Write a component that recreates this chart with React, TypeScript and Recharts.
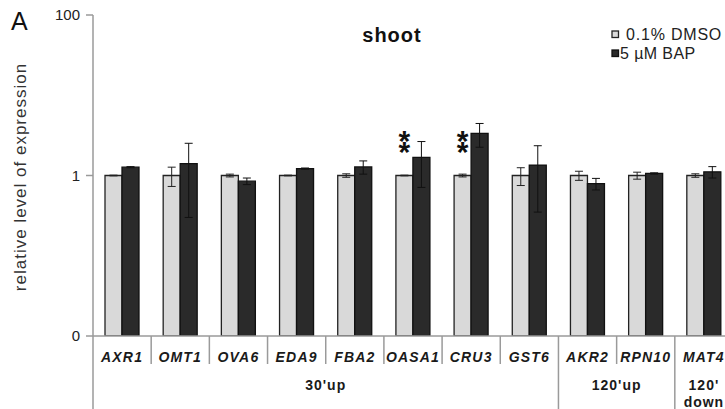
import React from 'react';
import { BarChart, Bar, XAxis, YAxis, ErrorBar, LabelList } from 'recharts';

const genes = ['AXR1', 'OMT1', 'OVA6', 'EDA9', 'FBA2', 'OASA1', 'CRU3', 'GST6', 'AKR2', 'RPN10', 'MAT4'];
const dmso = [1, 1, 1, 1, 1, 1, 1, 1, 1, 1, 1];
const dmsoErr = [0.01, 0.27, 0.04, 0.01, 0.05, 0.01, 0.04, 0.25, 0.13, 0.1, 0.05];
const bap = [1.27, 1.41, 0.85, 1.22, 1.28, 1.68, 3.35, 1.35, 0.79, 1.06, 1.11];
const bapErr = [0.02, 1.11, 0.08, 0.02, 0.24, 0.97, 1.1, 1.0, 0.13, 0.02, 0.18];
const significant = [false, false, false, false, false, true, true, false, false, false, false];

const groupLabels = [["30'up"], ["120'up"], ["120'", 'down']];
const groupSizes = [8, 2, 1];

const yTicks = [0.01, 1, 100];
const yTickLabels = ['0', '1', '100'];

const seriesNames = ['0.1% DMSO', '5 \u00b5M BAP'];

const data = genes.map((g, i) => ({
  gene: g,
  dmso: dmso[i],
  dmsoErr: dmsoErr[i],
  bap: bap[i],
  bapErr: bapErr[i],
}));

const W = 750;
const H = 409;
const MARGIN = { top: 15, right: 17, bottom: 0, left: 0 };
const Y_W = 93;
const X_H = 73;
const BAND = (W - MARGIN.left - MARGIN.right - Y_W) / genes.length;
const FONT = '"Liberation Sans", Arial, sans-serif';
const GRID = '#9a9a9a';
const LIGHT = '#d9d9d9';
const DARK = '#2a2a2a';

const groupEnds: number[] = [];
const groupStarts: number[] = [];
{
  let acc = 0;
  groupSizes.forEach((s) => {
    groupStarts.push(acc);
    acc += s;
    groupEnds.push(acc - 1);
  });
}

const GeneTick = (props: any) => {
  const { x, y, payload } = props;
  const i: number = payload.index;
  const axisY = y;
  const half = BAND / 2;
  const gIdx = groupEnds.indexOf(i);
  const isEnd = gIdx >= 0;
  const out: any[] = [];
  out.push(
    <text key="t" x={x} y={axisY + 26} textAnchor="middle" fontFamily={FONT} fontSize={14}
      fontWeight="bold" fontStyle="italic" letterSpacing={1.2} fill="#1a1a1a">
      {payload.value}
    </text>
  );
  out.push(
    <line key="r" x1={x + half} x2={x + half} y1={axisY} y2={isEnd ? H : axisY + 28} stroke={GRID} strokeWidth={1.5} />
  );
  if (i === 0) {
    out.push(<line key="l" x1={x - half} x2={x - half} y1={axisY} y2={H} stroke={GRID} strokeWidth={1.5} />);
  }
  if (isEnd) {
    const s = groupStarts[gIdx];
    const cx = x - ((i - s) * BAND) / 2;
    out.push(
      <text key="g" x={cx} y={axisY + 54} textAnchor="middle" fontFamily={FONT} fontSize={14}
        fontWeight="bold" letterSpacing={1} fill="#1a1a1a">
        {groupLabels[gIdx].map((ln, k) => (
          <tspan key={k} x={cx} dy={k === 0 ? 0 : 17}>{ln}</tspan>
        ))}
      </text>
    );
  }
  return <g>{out}</g>;
};

const Stars = (props: any) => {
  const { x, y, width, index } = props;
  if (!significant[index]) return null;
  const cx = x + width / 2;
  return (
    <text x={cx} y={y - 51.5} fontFamily={FONT} fontSize={30} fontWeight="bold" fill="#111"
      style={{ writingMode: 'vertical-rl', textOrientation: 'upright', letterSpacing: '-22.5px' } as any}>
      **
    </text>
  );
};

export default function App() {
  return (
    <div style={{ position: 'absolute', left: 0, top: 0, width: 725, height: 409, overflow: 'hidden', background: '#fff' }}>
      <BarChart width={W} height={H} data={data} margin={MARGIN} barGap={0} barCategoryGap={12}>
        <XAxis dataKey="gene" height={X_H} tick={<GeneTick />} tickLine={false} tickSize={0} tickMargin={0}
          axisLine={{ stroke: GRID, strokeWidth: 1.5 }} interval={0} />
        <YAxis scale="log" domain={[0.01, 100]} ticks={yTicks} allowDataOverflow width={Y_W}
          axisLine={{ stroke: GRID, strokeWidth: 1.5 }} tickLine={{ stroke: GRID, strokeWidth: 1.5 }} tickSize={7} tickMargin={6}
          tickFormatter={(v: number) => yTickLabels[yTicks.indexOf(v)] ?? String(v)}
          tick={{ fontFamily: FONT, fontSize: 15, fill: '#222' }} />
        <Bar dataKey="dmso" name={seriesNames[0]} fill={LIGHT} stroke="#222" strokeWidth={1.3} isAnimationActive={false}>
          <ErrorBar dataKey="dmsoErr" width={4} stroke="#222" strokeWidth={1} direction="y" />
          <LabelList dataKey="dmso" content={<Stars />} />
        </Bar>
        <Bar dataKey="bap" name={seriesNames[1]} fill={DARK} stroke="#111" strokeWidth={1.3} isAnimationActive={false}>
          <ErrorBar dataKey="bapErr" width={4} stroke="#111" strokeWidth={1} direction="y" />
        </Bar>
      </BarChart>
      <svg width={725} height={409} style={{ position: 'absolute', left: 0, top: 0, pointerEvents: 'none' }}>
        <text x={11} y={30} fontFamily={FONT} fontSize={25} fill="#111">A</text>
        <text x={392} y={42} textAnchor="middle" fontFamily={FONT} fontSize={20} fontWeight="bold" letterSpacing={1} fill="#111">shoot</text>
        <text x={26} y={177} textAnchor="middle" transform="rotate(-90 26 177)" fontFamily={FONT} fontSize={17}
          letterSpacing={1} fill="#333">relative level of expression</text>
        <rect x={612} y={31} width={6.5} height={6.5} fill={LIGHT} stroke="#222" strokeWidth={1.3} />
        <text x={626} y={40} fontFamily={FONT} fontSize={16} letterSpacing={0.8} fill="#222">{seriesNames[0]}</text>
        <rect x={612} y={50} width={6.5} height={6.5} fill={DARK} stroke="#111" strokeWidth={1.3} />
        <text x={620} y={59} fontFamily={FONT} fontSize={16} letterSpacing={0.4} fill="#222">{seriesNames[1]}</text>
      </svg>
    </div>
  );
}
